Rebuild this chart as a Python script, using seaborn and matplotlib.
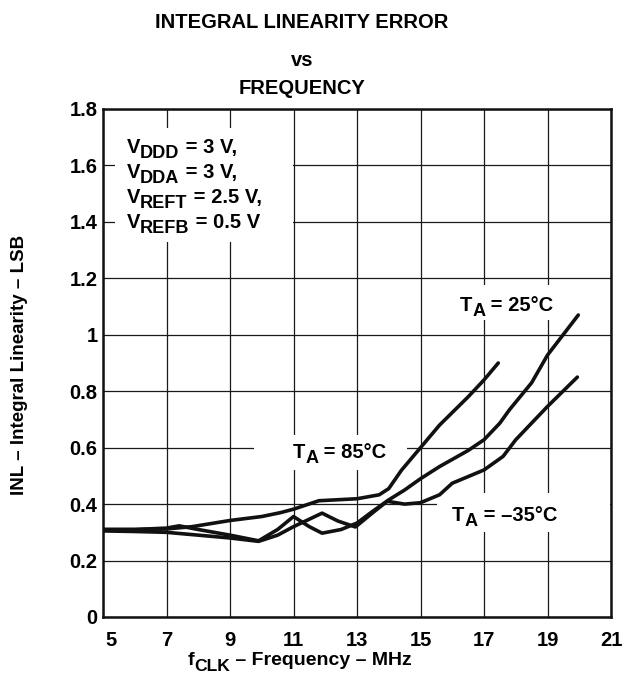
import matplotlib
matplotlib.use('Agg')
import matplotlib.pyplot as plt
import matplotlib.transforms as mtransforms
from matplotlib.patches import Rectangle
from matplotlib.offsetbox import TextArea, HPacker, VPacker, DrawingArea, AnnotationBbox
import seaborn as sns
import pandas as pd

# INL vs clock frequency
freq_85 = [5, 6, 7, 7.8, 9, 10, 10.6, 11, 11.8, 13, 13.7, 14.0, 14.4, 15, 15.6, 16.5, 17, 17.45]
inl_85 = [0.31, 0.31, 0.312, 0.32, 0.342, 0.356, 0.37, 0.382, 0.412, 0.419, 0.433, 0.455,
          0.52, 0.60, 0.68, 0.78, 0.84, 0.90]

freq_25 = [5, 6, 7, 7.4, 8, 9, 9.9, 10.5, 11, 11.5, 11.9, 12.5, 13, 13.5, 14, 14.5, 15,
           15.6, 16.5, 17, 17.5, 17.8, 18.5, 19, 19.97]
inl_25 = [0.31, 0.31, 0.315, 0.323, 0.31, 0.29, 0.27, 0.31, 0.356, 0.32, 0.297, 0.31, 0.333,
          0.375, 0.415, 0.45, 0.49, 0.533, 0.59, 0.628, 0.687, 0.734, 0.83, 0.928, 1.07]

freq_m35 = [5, 6, 7, 8, 9, 9.9, 10.5, 11, 11.9, 12.4, 12.95, 13.5, 13.95, 14.5, 15, 15.6,
            16, 17, 17.6, 18, 19, 19.94]
inl_m35 = [0.305, 0.303, 0.30, 0.29, 0.28, 0.268, 0.29, 0.32, 0.368, 0.34, 0.319, 0.37,
           0.41, 0.40, 0.405, 0.433, 0.474, 0.521, 0.569, 0.628, 0.746, 0.85]

x_ticks = [5, 7, 9, 11, 13, 15, 17, 19, 21]
y_ticks = [0, 0.2, 0.4, 0.6, 0.8, 1.0, 1.2, 1.4, 1.6, 1.8]
y_tick_labels = ['0', '0.2', '0.4', '0.6', '0.8', '1', '1.2', '1.4', '1.6', '1.8']

df = pd.concat([
    pd.DataFrame({'freq': freq_85, 'inl': inl_85, 'temp': '85'}),
    pd.DataFrame({'freq': freq_25, 'inl': inl_25, 'temp': '25'}),
    pd.DataFrame({'freq': freq_m35, 'inl': inl_m35, 'temp': '-35'}),
])

sns.set_style('white')
plt.rcParams['font.family'] = ['Liberation Sans', 'DejaVu Sans']
plt.rcParams['font.weight'] = 'bold'
for key in ['text.color', 'axes.labelcolor', 'xtick.color', 'ytick.color']:
    plt.rcParams[key] = 'black'

FS = 14.5


def sub_label(main, sub, rest, size=FS):
    """Text with a big, dropped subscript like the datasheet uses."""
    props = dict(fontsize=size, fontweight='bold', color='black')
    sprops = dict(fontsize=size * 0.9, fontweight='bold', color='black')
    sub_box = VPacker(children=[DrawingArea(1, size * 0.33), TextArea(sub, textprops=sprops)],
                      pad=0, sep=0, align='left')
    return HPacker(children=[TextArea(main, textprops=props), sub_box, TextArea(rest, textprops=props)],
                   pad=0, sep=0, align='top')


def place(ax_or_fig, box, xy, coords='data', align=(0, 0.5), z=4):
    ab = AnnotationBbox(box, xy, xycoords=coords, box_alignment=align, frameon=False, pad=0)
    ab.set_zorder(z)
    ax_or_fig.add_artist(ab)


fig = plt.figure(figsize=(6.24, 6.84), dpi=100)
ax = fig.add_axes([103 / 624, 1 - 617 / 684, 508 / 624, 508 / 684])

sns.lineplot(data=df, x='freq', y='inl', hue='temp', palette=['#111111'] * 3,
             estimator=None, legend=False, lw=2.6, ax=ax, zorder=3)

ax.set_xlim(5, 21)
ax.set_ylim(0, 1.8)
ax.set_xticks(x_ticks)
ax.set_xticklabels([str(v) for v in x_ticks])
ax.set_yticks(y_ticks)
ax.set_yticklabels(y_tick_labels)
ax.set_xlabel('')
ax.set_ylabel('')
ax.grid(True, color='#1a1a1a', lw=0.9)
ax.set_axisbelow(True)
ax.tick_params(axis='both', length=0, labelsize=FS)
ax.tick_params(axis='x', pad=10)
ax.tick_params(axis='y', pad=4)
for lab in ax.get_xticklabels() + ax.get_yticklabels():
    lab.set_fontweight('bold')
# first x label sits a little right of the corner
first = ax.get_xticklabels()[0]
first.set_transform(first.get_transform() + mtransforms.ScaledTranslation(8 / 100, 0, fig.dpi_scale_trans))
for sp in ax.spines.values():
    sp.set_linewidth(1.8)
    sp.set_color('#111111')

# white boxes that blank the grid behind the annotations
for x0, y0, w, h in [(5.38, 1.329, 5.6, 0.403), (9.76, 0.521, 4.81, 0.124),
                     (15.93, 1.052, 3.94, 0.125), (15.52, 0.300, 5.45, 0.14)]:
    ax.add_patch(Rectangle((x0, y0), w, h, facecolor='white', edgecolor='none', zorder=1))

cond = [('V', 'DDD', ' = 3 V,'), ('V', 'DDA', ' = 3 V,'),
        ('V', 'REFT', ' = 2.5 V,'), ('V', 'REFB', ' = 0.5 V')]
for i, (m, s, r) in enumerate(cond):
    place(ax, sub_label(m, s, r), (5.75, 1.655 - i * 0.0885))

place(ax, sub_label('T', 'A', ' = 85°C'), (10.98, 0.575))
place(ax, sub_label('T', 'A', ' = 25°C'), (16.24, 1.095))
place(ax, sub_label('T', 'A', ' = –35°C'), (16.0, 0.35))

fig.text(302 / 624, 1 - 28 / 684, 'INTEGRAL LINEARITY ERROR', fontsize=FS, fontweight='bold',
         ha='center', va='baseline')
fig.text(302 / 624, 1 - 66 / 684, 'vs', fontsize=FS, fontweight='bold', ha='center', va='baseline')
fig.text(302 / 624, 1 - 94 / 684, 'FREQUENCY', fontsize=FS, fontweight='bold', ha='center', va='baseline')

place(fig, sub_label('f', 'CLK', ' – Frequency – MHz', size=14), (300 / 624, 1 - 663 / 684),
      coords='figure fraction', align=(0.5, 0.5))
fig.text(20 / 624, 1 - 365 / 684, 'INL – Integral Linearity – LSB', fontsize=13.5, fontweight='bold',
         ha='center', va='center', rotation=90)

plt.savefig('out.png', dpi=100)
plt.close()
